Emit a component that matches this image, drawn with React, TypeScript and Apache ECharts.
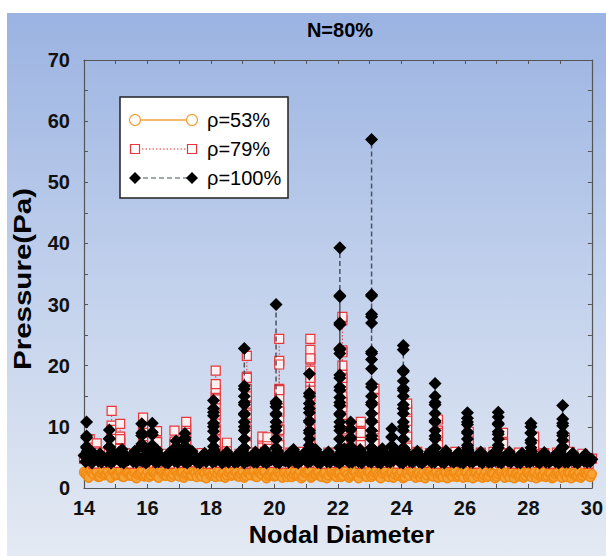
import React, { useEffect, useRef } from "react";
import * as echarts from "echarts";

// ---- data ----
const TITLE = "N=80%";
const X_NAME = "Nodal Diameter";
const Y_NAME = "Pressure(Pa)";
const SERIES_NAMES = ["ρ=53%", "ρ=79%", "ρ=100%"];

// base band values: main rows sampled every 0.1 ND from 14.0 to 30.0,
// secondary rows every 0.1 ND from 14.05 to 29.95
const BASE_STEP = 0.1;
const MAIN_START = 14;
const MID_START = 14.05;

const BLACK_BASE = [
  5.3, 6.0, 5.1, 5.7, 4.8, 5.6, 4.9, 4.4, 5.3, 5.9,
  5.0, 5.8, 6.3, 5.4, 4.6, 5.3, 6.0, 5.2, 4.5, 5.2,
  5.9, 5.1, 5.7, 6.2, 5.3, 4.5, 5.1, 5.8, 5.0, 5.6,
  6.1, 5.3, 4.6, 5.4, 6.0, 5.2, 4.4, 5.1, 5.7, 4.9,
  5.6, 6.2, 5.4, 4.6, 5.3, 5.9, 5.1, 4.4, 5.2, 5.8,
  6.1, 5.3, 4.5, 5.2, 5.9, 5.1, 5.7, 6.2, 5.4, 4.6,
  5.3, 6.0, 5.2, 4.5, 5.1, 5.8, 6.3, 5.5, 4.7, 5.4,
  6.0, 5.2, 5.8, 6.3, 5.5, 4.7, 5.3, 5.9, 5.1, 4.5,
  5.2, 5.9, 6.4, 5.6, 6.1, 5.3, 5.8, 6.3, 5.5, 4.8,
  5.4, 6.1, 5.3, 5.9, 6.4, 5.6, 4.9, 5.5, 6.1, 5.3,
  5.8, 6.3, 5.5, 4.7, 5.4, 6.0, 5.2, 4.5, 5.2, 5.9,
  6.3, 5.5, 4.8, 5.5, 6.1, 5.3, 4.6, 5.2, 5.8, 5.0,
  5.6, 6.2, 5.4, 4.7, 5.3, 5.9, 5.1, 4.5, 5.2, 5.7,
  6.1, 5.3, 4.6, 5.3, 5.9, 5.1, 4.4, 5.1, 5.7, 4.9,
  5.5, 6.0, 5.2, 4.5, 5.2, 5.8, 5.0, 4.4, 5.1, 5.7,
  6.0, 5.2, 4.5, 5.1, 5.7, 4.9, 4.4, 5.0, 5.5, 4.8,
  4.7,
];

const BLACK_LOW = [
  4.3, 4.6, 4.1, 4.8, 4.4, 4.2, 4.7, 4.5, 4.1, 4.5,
  4.8, 4.3, 4.1, 4.6, 4.9, 4.3, 4.2, 4.7, 4.4, 4.1,
  4.5, 4.8, 4.2, 4.3, 4.9, 4.2, 4.1, 4.6, 4.4, 4.2,
  4.7, 4.3, 4.1, 4.5, 4.8, 4.2, 4.1, 4.6, 4.3, 4.9,
  4.2, 4.4, 4.7, 4.1, 4.5, 4.2, 4.8, 4.2, 4.3, 4.6,
  4.1, 4.4, 4.9, 4.2, 4.2, 4.7, 4.3, 4.1, 4.5, 4.8,
  4.2, 4.1, 4.6, 4.4, 4.2, 4.8, 4.3, 4.1, 4.5, 4.7,
  4.2, 4.4, 4.9, 4.2, 4.1, 4.6, 4.3, 4.2, 4.8, 4.4,
  4.1, 4.5, 4.7, 4.2, 4.2, 4.6, 4.3, 4.1, 4.8, 4.4,
  4.2, 4.6, 4.2, 4.1, 4.7, 4.3, 4.2, 4.5, 4.9, 4.2,
  4.1, 4.6, 4.4, 4.2, 4.8, 4.3, 4.1, 4.5, 4.7, 4.2,
  4.2, 4.6, 4.3, 4.1, 4.8, 4.4, 4.2, 4.5, 4.2, 4.1,
  4.7, 4.3, 4.2, 4.6, 4.4, 4.1, 4.8, 4.2, 4.2, 4.5,
  4.3, 4.1, 4.7, 4.4, 4.2, 4.6, 4.2, 4.1, 4.8, 4.3,
  4.2, 4.5, 4.4, 4.1, 4.7, 4.2, 4.2, 4.6, 4.3, 4.1,
  4.5, 4.2, 4.2, 4.7, 4.3, 4.1, 4.6, 4.4, 4.2, 4.3,
];

const RED_BASE = [
  4.8, 5.7, 4.6, 4.0, 4.9, 5.8, 4.7, 4.1, 5.0, 5.9,
  4.9, 4.1, 4.8, 5.7, 4.6, 4.0, 4.9, 5.8, 4.8, 4.1,
  5.0, 5.9, 4.8, 4.1, 4.7, 5.6, 4.5, 4.0, 4.9, 5.8,
  4.7, 4.1, 5.0, 5.9, 4.9, 4.2, 4.8, 5.7, 4.6, 4.0,
  4.9, 5.8, 4.7, 4.1, 5.0, 5.9, 4.8, 4.1, 4.7, 5.6,
  4.6, 4.0, 4.9, 5.8, 4.8, 4.1, 5.0, 5.9, 4.7, 4.1,
  4.8, 5.7, 4.6, 4.0, 4.9, 5.8, 4.7, 4.1, 5.0, 5.9,
  4.8, 4.1, 4.7, 5.6, 4.5, 4.0, 4.9, 5.8, 4.8, 4.1,
  5.0, 5.9, 4.8, 4.2, 4.8, 5.7, 4.6, 4.0, 4.9, 5.8,
  4.7, 4.1, 5.0, 5.9, 4.8, 4.1, 4.7, 5.6, 4.6, 4.0,
  4.9, 5.8, 4.8, 4.1, 5.0, 5.9, 4.7, 4.1, 4.8, 5.7,
  4.6, 4.0, 4.9, 5.8, 4.7, 4.1, 5.0, 5.9, 4.8, 4.2,
  4.8, 5.7, 4.6, 4.0, 4.9, 5.8, 4.7, 4.1, 5.0, 5.9,
  4.8, 4.1, 4.7, 5.6, 4.5, 4.0, 4.9, 5.8, 4.8, 4.1,
  5.0, 5.9, 4.7, 4.1, 4.8, 5.7, 4.6, 4.0, 4.9, 5.8,
  4.7, 4.1, 5.0, 5.9, 4.8, 4.1, 4.7, 5.6, 4.5, 4.0,
  4.8,
];

const ORANGE_BASE = [
  2.6, 2.0, 2.9, 2.2, 2.7, 1.9, 2.8, 2.3, 2.0, 2.9,
  2.1, 2.7, 1.9, 2.8, 2.4, 2.0, 2.9, 2.2, 2.6, 1.9,
  2.8, 2.1, 2.6, 1.9, 2.9, 2.3, 2.0, 2.7, 2.2, 2.8,
  1.9, 2.6, 2.2, 2.9, 2.0, 2.5, 2.8, 1.9, 2.4, 2.7,
  2.0, 2.8, 2.3, 1.9, 2.7, 2.1, 2.9, 2.2, 2.6, 1.9,
  2.7, 2.0, 2.5, 2.8, 1.9, 2.6, 2.2, 2.8, 2.0, 2.5,
  1.9, 2.7, 2.1, 2.6, 1.8, 2.8, 2.2, 2.0, 2.7, 1.9,
  2.5, 2.8, 1.9, 2.3, 2.7, 1.8, 2.6, 2.1, 2.8, 2.0,
  2.4, 1.8, 2.7, 2.2, 2.0, 2.8, 1.9, 2.5, 2.7, 1.8,
  2.6, 2.1, 2.8, 1.9, 2.4, 2.7, 1.8, 2.6, 2.2, 2.0,
  2.7, 1.8, 2.5, 2.8, 2.0, 2.3, 1.8, 2.7, 2.1, 2.6,
  1.9, 2.7, 2.2, 1.8, 2.6, 2.4, 1.9, 2.8, 2.0, 2.5,
  2.7, 1.8, 2.4, 2.6, 1.9, 2.8, 2.1, 1.8, 2.6, 2.3,
  1.9, 2.7, 2.0, 2.5, 1.8, 2.6, 2.3, 1.9, 2.7, 2.0,
  2.5, 1.8, 2.6, 2.2, 1.9, 2.7, 2.0, 2.4, 1.8, 2.6,
  2.1, 2.7, 1.8, 2.5, 2.3, 1.9, 2.6, 2.0, 2.4, 2.7,
  2.3,
];

const ORANGE_MID = [
  2.3, 1.7, 2.5, 2.9, 1.8, 2.4, 2.1, 2.8, 1.7, 2.6,
  2.2, 2.9, 1.8, 2.5, 2.0, 2.7, 1.6, 2.4, 2.9, 2.1,
  1.8, 2.6, 2.3, 1.7, 2.8, 2.0, 2.5, 1.8, 2.9, 2.2,
  2.6, 1.7, 2.4, 2.0, 2.8, 1.8, 2.3, 2.7, 1.6, 2.5,
  2.2, 1.8, 2.9, 2.4, 1.7, 2.6, 2.0, 2.8, 1.9, 2.3,
  1.7, 2.5, 2.1, 2.9, 1.8, 2.4, 2.7, 1.6, 2.2, 2.8,
  2.0, 2.4, 1.7, 2.9, 2.3, 1.8, 2.6, 2.1, 1.6, 2.5,
  2.8, 1.7, 2.2, 2.6, 1.9, 2.4, 1.6, 2.7, 2.3, 1.8,
  2.5, 2.0, 2.8, 1.7, 2.3, 2.6, 1.6, 2.4, 2.1, 2.7,
  1.8, 2.5, 2.2, 1.6, 2.7, 2.0, 2.4, 1.7, 2.8, 2.2,
  1.6, 2.4, 2.0, 2.6, 1.7, 2.5, 2.2, 1.6, 2.7, 2.1,
  2.5, 1.7, 2.3, 2.7, 1.6, 2.2, 2.6, 1.8, 2.4, 1.7,
  2.6, 2.1, 1.6, 2.5, 2.2, 1.7, 2.7, 2.0, 2.4, 1.6,
  2.3, 2.6, 1.7, 2.2, 2.5, 1.6, 2.4, 2.1, 1.7, 2.6,
  2.0, 2.4, 1.6, 2.7, 2.1, 1.8, 2.5, 1.6, 2.3, 2.6,
  1.7, 2.2, 2.5, 1.6, 2.4, 2.0, 1.7, 2.5, 2.2, 1.8,
];

// resonance stacks: [nodal diameter, pressures in sweep order]
const BLACK_PEAKS: [number, number[]][] = [
  [14.08, [6.8, 8.5, 10.8, 8.2, 6.6]],
  [14.8, [6.7, 8.1, 9.5, 8.0, 6.7]],
  [15.82, [6.9, 8.6, 10.5, 9.0, 7.2]],
  [16.15, [6.8, 8.7, 10.6, 9.1, 7.0]],
  [16.9, [6.6, 7.7, 6.8]],
  [17.18, [6.9, 8.2, 8.9, 7.9, 6.8]],
  [18.08, [6.8, 8.0, 9.3, 10.6, 11.8, 13.0, 14.3, 12.4, 10.0, 8.0]],
  [19.05, [6.6, 8.0, 9.4, 10.8, 12.2, 13.6, 15.0, 16.7, 22.8, 16.2, 14.0, 12.0, 10.0, 8.0, 6.6]],
  [20.05, [6.6, 8.0, 9.4, 10.8, 12.2, 13.3, 14.1, 30.0, 13.8, 12.0, 10.0, 8.0, 6.6]],
  [21.1, [6.6, 8.0, 9.4, 10.8, 12.3, 13.8, 15.5, 18.7, 15.0, 13.0, 11.0, 9.0, 7.0]],
  [22.06, [6.6, 8.0, 9.4, 10.8, 12.2, 13.5, 14.8, 16.5, 18.0, 22.0, 22.6, 26.7, 31.5, 39.3, 31.3, 27.0, 22.8, 18.5, 16.0, 14.0, 12.0, 10.0, 8.0, 6.6]],
  [22.4, [6.8, 8.3, 9.7, 10.8, 9.5, 8.0, 6.8]],
  [23.06, [6.6, 8.0, 9.4, 10.8, 12.2, 13.6, 15.0, 16.5, 19.5, 21.0, 22.3, 27.0, 28.4, 31.6, 57.0, 31.4, 28.0, 22.0, 17.0, 14.0, 11.0, 8.5, 6.6]],
  [23.7, [6.8, 8.3, 9.7, 8.4, 6.9]],
  [24.06, [6.6, 8.0, 9.4, 10.8, 12.2, 13.6, 15.0, 16.3, 17.5, 19.0, 22.6, 23.3, 19.2, 16.0, 13.0, 10.0, 8.0, 6.6]],
  [25.06, [6.6, 8.0, 9.4, 10.8, 12.2, 13.6, 15.0, 17.1, 14.0, 11.0, 8.5, 6.6]],
  [26.08, [6.6, 8.0, 9.2, 10.4, 11.4, 12.3, 10.8, 9.0, 7.0]],
  [27.05, [6.6, 8.0, 9.2, 10.4, 11.6, 12.4, 10.6, 8.8, 7.0]],
  [28.08, [6.6, 7.8, 9.0, 10.0, 10.6, 9.0, 7.4]],
  [29.08, [6.6, 7.8, 9.0, 10.2, 11.3, 13.5, 10.6, 8.6, 6.8]],
];

const RED_PEAKS: [number, number[]][] = [
  [14.18, [5.8, 7.0, 8.0, 6.6]],
  [14.4, [5.6, 7.3, 6.0]],
  [14.87, [6.0, 8.2, 10.2, 12.6, 9.5, 7.2]],
  [15.14, [5.8, 7.4, 8.4, 10.5, 8.0, 6.4]],
  [15.86, [6.0, 8.0, 9.8, 11.5, 9.0, 7.0]],
  [16.3, [5.8, 7.6, 9.3, 7.5, 6.0]],
  [16.85, [5.8, 7.6, 9.4, 7.2]],
  [17.22, [6.0, 7.8, 9.7, 10.8, 9.0, 7.0]],
  [18.15, [6.0, 7.8, 9.6, 11.4, 13.2, 15.0, 16.2, 19.2, 17.0, 14.5, 12.0, 9.5, 7.2]],
  [18.5, [5.8, 7.4, 6.0]],
  [19.13, [6.0, 7.8, 9.6, 11.4, 12.6, 13.8, 15.0, 16.2, 18.2, 21.6, 18.0, 15.0, 12.0, 9.0, 7.0]],
  [19.62, [5.8, 7.2, 8.4, 6.6]],
  [19.78, [5.8, 7.0, 8.3, 6.4]],
  [20.15, [6.0, 7.8, 9.6, 11.4, 13.0, 14.6, 16.2, 20.8, 24.4, 20.2, 16.0, 12.5, 9.5, 7.0]],
  [21.13, [6.0, 7.8, 9.6, 11.4, 13.2, 15.0, 16.0, 17.4, 19.2, 21.0, 22.6, 24.4, 21.2, 18.0, 15.0, 12.0, 9.0, 7.0]],
  [22.14, [6.0, 7.8, 9.6, 11.4, 13.2, 15.0, 16.8, 18.5, 20.0, 22.5, 27.4, 28.0, 22.2, 18.0, 14.0, 10.5, 7.2]],
  [22.72, [5.8, 7.6, 9.2, 10.8, 9.0, 7.0]],
  [23.15, [6.0, 7.8, 9.6, 11.4, 13.0, 14.6, 16.2, 13.0, 10.0, 7.2]],
  [24.18, [6.0, 7.8, 9.6, 11.4, 12.8, 13.8, 11.0, 8.4, 6.6]],
  [25.15, [5.8, 7.6, 9.4, 11.2, 9.0, 7.0]],
  [26.12, [5.8, 7.5, 9.2, 7.6]],
  [27.2, [5.8, 7.4, 9.0, 7.2]],
  [28.18, [5.8, 7.2, 8.4, 7.0]],
  [29.15, [5.8, 7.3, 8.2, 6.8]],
];

const X_MIN = 14, X_MAX = 30, X_STEP = 2;
const Y_MIN = 0, Y_MAX = 70, Y_STEP = 10;

// Build sweep-ordered points; the line is broken right after the top of each
// stack so the falling branch does not overdraw the rising dashed segment.
function buildPoints(rows: [number, number[]][], peaks: [number, number[]][]) {
  const pts: (number | null)[][] = [];
  rows.forEach(([start, vals]) =>
    vals.forEach((y, i) => pts.push([Math.round((start + i * BASE_STEP) * 1000) / 1000, y]))
  );
  peaks.forEach(([x, ys]) => {
    const top = Math.max(...ys);
    let broke = false;
    ys.forEach((y) => {
      pts.push([x, y]);
      if (!broke && y === top) {
        pts.push([x, null]);
        broke = true;
      }
    });
  });
  pts.sort((a, b) => (a[0] as number) - (b[0] as number));
  return pts;
}

const ORANGE = "#f18a12";
const RED = "#e8363c";
const BLACK = "#000000";
const FONT = "'Liberation Sans', Arial, Helvetica, sans-serif";

export default function App() {
  const ref = useRef<HTMLDivElement>(null);
  useEffect(() => {
    if (!ref.current) return;
    const chart = echarts.init(ref.current, undefined, { renderer: "svg" });

    const frame = "#555";
    const tickCommon = {
      axisLine: { show: true, onZero: false, lineStyle: { color: frame, width: 1.2 } },
      axisTick: { show: true, inside: true, length: 4, lineStyle: { color: frame } },
      minorTick: { show: true, splitNumber: 2, length: 4, lineStyle: { color: frame } },
      splitLine: { show: false },
      minorSplitLine: { show: false },
    };

    const legendX1 = 128, legendX2 = 185, textX = 200;
    const rows = [107, 136, 165];

    const option: any = {
      animation: false,
      backgroundColor: new echarts.graphic.LinearGradient(0, 0, 0, 1, [
        { offset: 0, color: "#9bb3e2" },
        { offset: 0.5, color: "#c2d1ec" },
        { offset: 1, color: "#e4eaf3" },
      ]),
      grid: { left: 77, right: 8, top: 47, bottom: 68 },
      xAxis: [
        {
          type: "value", min: X_MIN, max: X_MAX, interval: X_STEP, position: "bottom",
          ...tickCommon,
          axisLabel: { show: true, margin: 10, fontSize: 20, fontWeight: "bold", color: "#111", fontFamily: FONT },
        },
        {
          type: "value", min: X_MIN, max: X_MAX, interval: X_STEP, position: "top",
          ...tickCommon,
          axisLabel: { show: false },
        },
      ],
      yAxis: [
        {
          type: "value", min: Y_MIN, max: Y_MAX, interval: Y_STEP, position: "left",
          ...tickCommon,
          axisLabel: { show: true, margin: 14, fontSize: 20, fontWeight: "bold", color: "#111", fontFamily: FONT },
        },
        {
          type: "value", min: Y_MIN, max: Y_MAX, interval: Y_STEP, position: "right",
          ...tickCommon,
          axisLabel: { show: false },
        },
      ],
      legend: { show: false },
      series: [
        {
          name: SERIES_NAMES[0], type: "line",
          data: buildPoints([[MAIN_START, ORANGE_BASE], [MID_START, ORANGE_MID]], []),
          showAllSymbol: true, symbol: "circle", symbolSize: 9,
          itemStyle: { color: "#f7a236", borderColor: ORANGE, borderWidth: 1.5 },
          lineStyle: { color: ORANGE, width: 1.5, type: "solid" },
          z: 2,
        },
        {
          name: SERIES_NAMES[1], type: "line",
          data: buildPoints([[MAIN_START, RED_BASE]], RED_PEAKS),
          showAllSymbol: true, symbol: "rect", symbolSize: 9,
          itemStyle: { color: "#fdf0f0", borderColor: RED, borderWidth: 1.2 },
          lineStyle: { color: RED, width: 1, type: [1.5, 2] },
          z: 3,
        },
        {
          name: SERIES_NAMES[2], type: "line",
          data: buildPoints([[MAIN_START, BLACK_BASE], [MID_START, BLACK_LOW]], BLACK_PEAKS),
          showAllSymbol: true, symbol: "diamond", symbolSize: [13, 13],
          itemStyle: { color: BLACK, borderColor: BLACK, borderWidth: 0 },
          lineStyle: { color: "#4b5262", width: 1.5, type: [5, 3] },
          z: 4,
        },
      ],
      graphic: [
        {
          type: "text", x: 333, y: 17, z: 10,
          style: { text: TITLE, font: `bold 20px ${FONT}`, fill: "#000", align: "center", verticalAlign: "middle", textAlign: "center", textVerticalAlign: "middle" },
        },
        {
          type: "text", x: 334.5, y: 522, z: 10, scaleX: 1.1,
          style: { text: X_NAME, font: `bold 23px ${FONT}`, fill: "#000", align: "center", verticalAlign: "middle", textAlign: "center", textVerticalAlign: "middle" },
        },
        {
          type: "text", x: 15.5, y: 266, rotation: Math.PI / 2, scaleX: 1.23, z: 10,
          style: { text: Y_NAME, font: `bold 24px ${FONT}`, fill: "#000", align: "center", verticalAlign: "middle", textAlign: "center", textVerticalAlign: "middle" },
        },
        {
          type: "group", z: 20,
          children: [
            { type: "rect", shape: { x: 113, y: 84, width: 168, height: 101 }, style: { fill: "#fff", stroke: "#222", lineWidth: 1.5 } },
            { type: "line", shape: { x1: legendX1, y1: rows[0], x2: legendX2, y2: rows[0] }, style: { stroke: "#f4a23c", lineWidth: 1.5 } },
            { type: "circle", shape: { cx: legendX1, cy: rows[0], r: 5.5 }, style: { fill: "#fff", stroke: "#f4a23c", lineWidth: 1.2 } },
            { type: "circle", shape: { cx: legendX2, cy: rows[0], r: 5.5 }, style: { fill: "#fff", stroke: "#f4a23c", lineWidth: 1.2 } },
            { type: "line", shape: { x1: legendX1, y1: rows[1], x2: legendX2, y2: rows[1] }, style: { stroke: RED, lineWidth: 1, lineDash: [1.5, 2] } },
            { type: "rect", shape: { x: legendX1 - 4.5, y: rows[1] - 4.5, width: 9, height: 9 }, style: { fill: "#fff", stroke: RED, lineWidth: 1.2 } },
            { type: "rect", shape: { x: legendX2 - 4.5, y: rows[1] - 4.5, width: 9, height: 9 }, style: { fill: "#fff", stroke: RED, lineWidth: 1.2 } },
            { type: "line", shape: { x1: legendX1, y1: rows[2], x2: legendX2, y2: rows[2] }, style: { stroke: "#4b5262", lineWidth: 1.2, lineDash: [5, 3] } },
            { type: "polygon", shape: { points: [[legendX1, rows[2] - 6], [legendX1 + 6, rows[2]], [legendX1, rows[2] + 6], [legendX1 - 6, rows[2]]] }, style: { fill: "#000" } },
            { type: "polygon", shape: { points: [[legendX2, rows[2] - 6], [legendX2 + 6, rows[2]], [legendX2, rows[2] + 6], [legendX2 - 6, rows[2]]] }, style: { fill: "#000" } },
            ...SERIES_NAMES.map((name, i) => ({
              type: "text", x: textX, y: rows[i],
              style: { text: name, font: `20px ${FONT}`, fill: "#000", align: "left", verticalAlign: "middle", textAlign: "left", textVerticalAlign: "middle" },
            })),
          ],
        },
      ],
    };

    chart.setOption(option);
    return () => chart.dispose();
  }, []);

  return (
    <div
      ref={ref}
      style={{ position: "absolute", left: 7, top: 13, width: 599, height: 543 }}
    />
  );
}
